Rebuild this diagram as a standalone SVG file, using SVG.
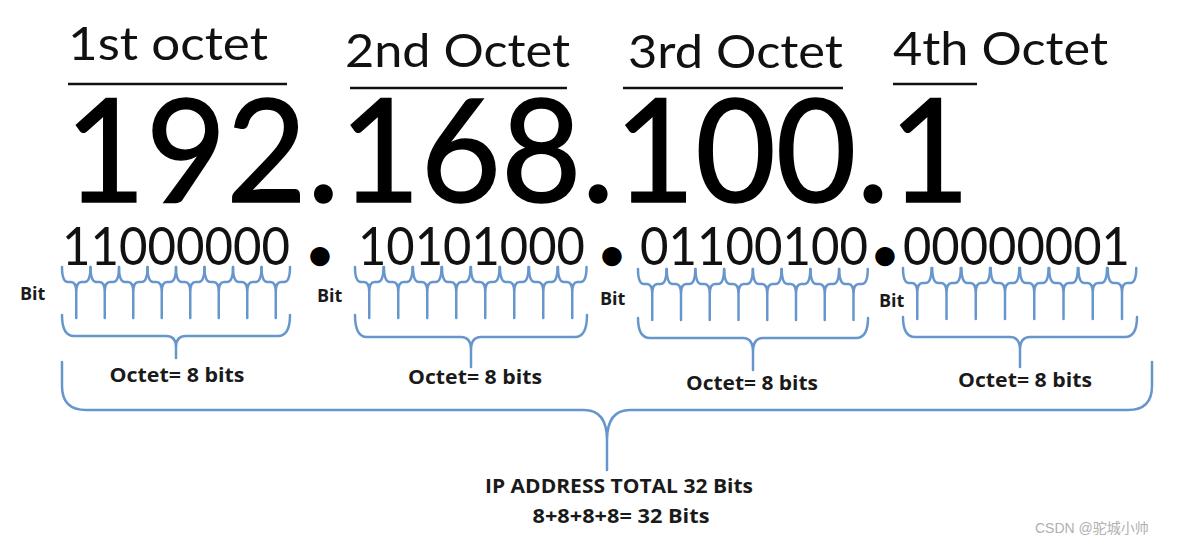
<svg xmlns="http://www.w3.org/2000/svg" width="1184" height="545" viewBox="0 0 1184 545">
<style>
.hd{font-family:Lato,"Open Sans",sans-serif;font-size:46px;fill:#111}
.big{font-family:Lato,"Open Sans",sans-serif;font-size:144px;fill:#000;stroke:#000;stroke-width:1.5}
.bin{font-family:Lato,"Open Sans",sans-serif;font-size:52px;fill:#111}
.dot{font-family:Lato,"Open Sans",sans-serif;font-size:42px;font-weight:900;fill:#000;text-anchor:middle}
.lbl{font-family:"Open Sans",Lato,sans-serif;font-weight:bold;fill:#1a1a1a}
.ul{stroke:#111;stroke-width:2.5}
.br{fill:none;stroke:#6796cc;stroke-width:2.5;stroke-linecap:round;stroke-linejoin:round}
.wm{font-family:"Liberation Sans","Noto Sans CJK SC",sans-serif;font-size:14px;fill:#b0b0b0}
</style>
<defs>
<path id="sb" d="M0 0 Q0 15 6 15 H9 Q14.25 15 14.25 25 V51 M28.5 0 Q28.5 15 22.5 15 H19.5 Q14.25 15 14.25 25"/>
</defs>
<rect width="1184" height="545" fill="#fff"/>
<g id="headers">
<text class="hd" x="68" y="60" textLength="200" lengthAdjust="spacingAndGlyphs">1st octet</text>
<line class="ul" x1="68" y1="84" x2="287" y2="84"/>
<text class="hd" x="345" y="67" textLength="225" lengthAdjust="spacingAndGlyphs">2nd Octet</text>
<line class="ul" x1="350" y1="88" x2="567" y2="88"/>
<text class="hd" x="628" y="68" textLength="215" lengthAdjust="spacingAndGlyphs">3rd Octet</text>
<line class="ul" x1="623" y1="88" x2="843" y2="88"/>
<text class="hd" x="893" y="65" textLength="215" lengthAdjust="spacingAndGlyphs">4th Octet</text>
<line class="ul" x1="893" y1="84" x2="977" y2="84"/>
</g>
<g id="address">
<text class="big" x="65" y="202" textLength="905" lengthAdjust="spacingAndGlyphs">192.168.100.1</text>
</g>
<g id="binary">
<text class="bin" x="62" y="265" textLength="228" lengthAdjust="spacingAndGlyphs">11000000</text>
<text class="dot" x="320" y="269">•</text>
<text class="bin" x="358" y="265" textLength="227" lengthAdjust="spacingAndGlyphs">10101000</text>
<text class="dot" x="612" y="269">•</text>
<text class="bin" x="640" y="265" textLength="228" lengthAdjust="spacingAndGlyphs">01100100</text>
<text class="dot" x="885" y="269">•</text>
<text class="bin" x="903" y="265" textLength="227" lengthAdjust="spacingAndGlyphs">00000001</text>
</g>
<g id="bit-labels">
<text class="lbl" x="20" y="300" font-size="18">Bit</text>
<text class="lbl" x="317" y="302" font-size="18">Bit</text>
<text class="lbl" x="600" y="305" font-size="18">Bit</text>
<text class="lbl" x="879" y="307" font-size="18">Bit</text>
</g>
<g id="connectors" class="br">
<g id="bits1">
<use href="#sb" x="62" y="267"/><use href="#sb" x="90.5" y="267"/><use href="#sb" x="119" y="267"/><use href="#sb" x="147.5" y="267"/><use href="#sb" x="176" y="267"/><use href="#sb" x="204.5" y="267"/><use href="#sb" x="233" y="267"/><use href="#sb" x="261.5" y="267"/>
</g>
<g id="bits2">
<use href="#sb" x="355" y="267"/><use href="#sb" x="384" y="267"/><use href="#sb" x="413" y="267"/><use href="#sb" x="442" y="267"/><use href="#sb" x="471" y="267"/><use href="#sb" x="500" y="267"/><use href="#sb" x="529" y="267"/><use href="#sb" x="558" y="267"/>
</g>
<g id="bits3">
<use href="#sb" x="638" y="269"/><use href="#sb" x="666.75" y="269"/><use href="#sb" x="695.5" y="269"/><use href="#sb" x="724.25" y="269"/><use href="#sb" x="753" y="269"/><use href="#sb" x="781.75" y="269"/><use href="#sb" x="810.5" y="269"/><use href="#sb" x="839.25" y="269"/>
</g>
<g id="bits4">
<use href="#sb" x="903" y="268"/><use href="#sb" x="932.25" y="268"/><use href="#sb" x="961.5" y="268"/><use href="#sb" x="990.75" y="268"/><use href="#sb" x="1020" y="268"/><use href="#sb" x="1049.25" y="268"/><use href="#sb" x="1078.5" y="268"/><use href="#sb" x="1107.75" y="268"/>
</g>
<path id="oct1" d="M62 315 Q62 336 74 336 H166 Q176 336 176 347 V358 M290 315 Q290 336 278 336 H186 Q176 336 176 347"/>
<path id="oct2" d="M355 315 Q355 337 367 337 H461 Q471 337 471 350 V367 M587 315 Q587 337 575 337 H481 Q471 337 471 350"/>
<path id="oct3" d="M638 318 Q638 338 650 338 H743 Q753 338 753 352 V370 M868 318 Q868 338 856 338 H763 Q753 338 753 352"/>
<path id="oct4" d="M903 317 Q903 337 915 337 H1010 Q1020 337 1020 350 V367 M1137 317 Q1137 337 1125 337 H1030 Q1020 337 1020 350"/>
<path id="total" d="M62 362 V386 Q62 410 86 410 H584 Q607 410 607 440 V470 M1152 362 V386 Q1152 410 1128 410 H630 Q607 410 607 440"/>
</g>
<g id="octet-labels">
<text class="lbl" x="177" y="382" font-size="19" text-anchor="middle" textLength="135" lengthAdjust="spacingAndGlyphs">Octet= 8 bits</text>
<text class="lbl" x="475" y="384" font-size="19" text-anchor="middle" textLength="134" lengthAdjust="spacingAndGlyphs">Octet= 8 bits</text>
<text class="lbl" x="752" y="390" font-size="19" text-anchor="middle" textLength="132" lengthAdjust="spacingAndGlyphs">Octet= 8 bits</text>
<text class="lbl" x="1025" y="387" font-size="19" text-anchor="middle" textLength="134" lengthAdjust="spacingAndGlyphs">Octet= 8 bits</text>
</g>
<g id="total-label">
<text class="lbl" x="619" y="493" font-size="20" text-anchor="middle" textLength="268" lengthAdjust="spacingAndGlyphs">IP ADDRESS TOTAL 32 Bits</text>
<text class="lbl" x="621" y="523" font-size="20" text-anchor="middle" textLength="177" lengthAdjust="spacingAndGlyphs">8+8+8+8= 32 Bits</text>
</g>
<text class="wm" x="1035" y="533">CSDN @驼城小帅</text>
</svg>
